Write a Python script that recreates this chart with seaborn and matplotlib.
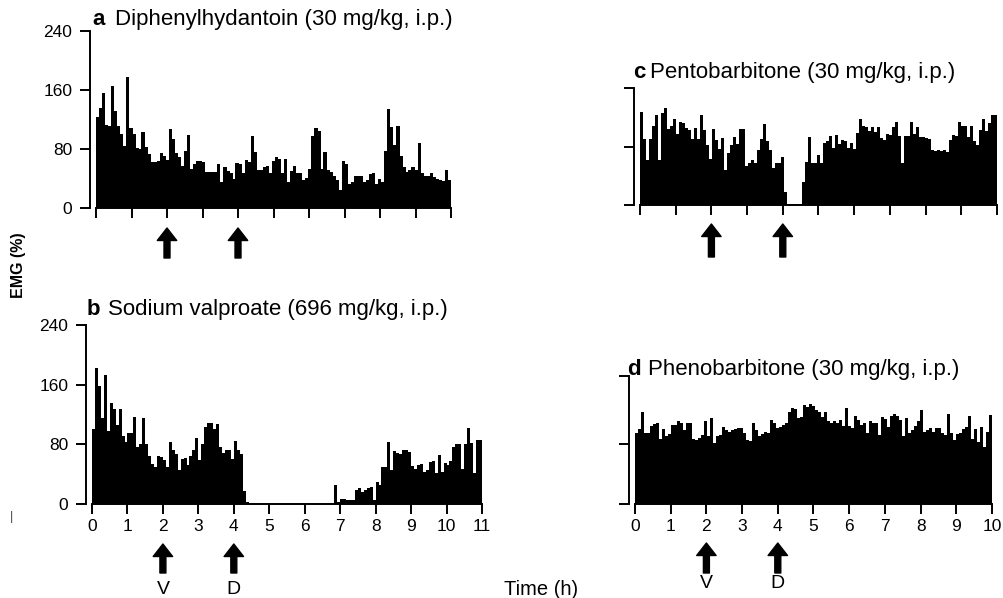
import numpy as np
import pandas as pd
import matplotlib
matplotlib.use("Agg")
import matplotlib.pyplot as plt
import seaborn as sns

# EMG (% of control), one value per 5-min bin
emg_a = [123, 135, 156, 113, 111, 165, 131, 111, 100, 84,
         178, 108, 100, 82, 80, 103, 83, 73, 63, 62,
         64, 74, 70, 65, 107, 93, 75, 69, 57, 77,
         99, 53, 60, 64, 64, 62, 49, 49, 49, 49,
         59, 35, 56, 50, 47, 40, 61, 59, 47, 65,
         63, 97, 76, 51, 52, 56, 57, 47, 64, 69,
         67, 47, 66, 35, 50, 57, 47, 47, 38, 41,
         53, 98, 108, 105, 53, 76, 52, 49, 44, 38,
         25, 64, 60, 32, 35, 43, 43, 44, 35, 38,
         46, 47, 32, 39, 35, 77, 134, 110, 86, 111,
         71, 56, 49, 51, 55, 51, 88, 47, 44, 43,
         47, 42, 40, 38, 37, 52, 38]

emg_b = [100, 182, 158, 115, 173, 98, 136, 128, 106, 127,
         91, 83, 95, 95, 117, 76, 80, 115, 80, 65,
         54, 50, 64, 63, 59, 50, 83, 73, 67, 46,
         61, 62, 52, 65, 72, 88, 59, 81, 103, 108,
         108, 101, 107, 77, 68, 72, 72, 61, 84, 73,
         67, 17, 3, 0.5,
         0, 0, 0, 0, 0, 0, 0, 0, 0, 0,
         0, 0, 0, 0, 0, 0, 0, 0, 0, 0,
         0, 0, 0, 0, 0, 0, 0, 0,
         25, 3, 7, 7, 6, 5, 6, 19, 22, 16,
         19, 22, 23, 6, 29, 25, 50, 50, 83, 45,
         71, 68, 67, 72, 72, 70, 51, 47, 52, 53,
         43, 45, 56, 57, 42, 66, 43, 55, 52, 58,
         77, 80, 80, 47, 81, 102, 82, 42, 86, 86]

emg_c = [127, 90, 62, 90, 108, 123, 62, 126, 133, 104,
         108, 118, 97, 113, 112, 105, 102, 90, 105, 90,
         123, 103, 82, 63, 104, 89, 76, 91, 48, 71,
         82, 93, 83, 104, 104, 53, 58, 62, 57, 75,
         90, 111, 88, 75, 50, 58, 57, 66, 18, 2,
         1, 1, 1, 2, 31, 59, 93, 57, 57, 69,
         57, 85, 87, 94, 78, 96, 84, 89, 87, 78,
         85, 77, 99, 117, 108, 107, 101, 107, 100, 107,
         91, 89, 97, 96, 107, 114, 94, 57, 95, 95,
         113, 97, 107, 93, 93, 92, 90, 75, 74, 75,
         74, 75, 73, 89, 96, 95, 114, 108, 108, 93,
         108, 87, 82, 103, 117, 101, 112, 123, 123]

emg_d = [96, 101, 124, 95, 95, 105, 107, 109, 87, 101,
         91, 94, 106, 106, 111, 109, 100, 109, 109, 87,
         86, 89, 93, 112, 91, 115, 82, 91, 93, 103,
         100, 97, 100, 101, 102, 102, 96, 86, 84, 109,
         100, 92, 94, 97, 95, 113, 109, 102, 104, 106,
         109, 124, 129, 127, 115, 117, 133, 131, 135, 132,
         126, 123, 117, 123, 111, 109, 111, 109, 113, 105,
         129, 105, 102, 118, 113, 106, 109, 95, 111, 109,
         109, 93, 117, 114, 103, 118, 121, 118, 113, 91,
         115, 96, 100, 105, 111, 126, 97, 100, 102, 97,
         102, 102, 96, 93, 121, 95, 86, 94, 96, 101,
         103, 118, 87, 101, 83, 103, 76, 97, 120]

letters = ["a", "b", "c", "d"]
drugs = ["Diphenylhydantoin (30 mg/kg, i.p.)",
         "Sodium valproate (696 mg/kg, i.p.)",
         "Pentobarbitone (30 mg/kg, i.p.)",
         "Phenobarbitone (30 mg/kg, i.p.)"]
hours = [10, 11, 10, 10]
arrow_times = [2, 4]
arrow_labels = ["V", "D"]

sns.set_theme(style="ticks")
plt.rcParams["font.family"] = ["Liberation Sans", "DejaVu Sans"]
plt.rcParams["text.color"] = "black"
plt.rcParams["axes.labelcolor"] = "black"

W, H = 1004, 598
fig = plt.figure(figsize=(W / 100, H / 100), dpi=100)


def box(left, right, top, bottom):
    return [left / W, (H - bottom) / H, (right - left) / W, (bottom - top) / H]


# pixel boxes of the four panels
layout = {
    "a": dict(rect=box(96, 451, 31, 208), ytop=240, yticks=[0, 80, 160, 240], ylab=True, xlab=False,
              title=(92, 115, 25), arrow=(20, 50), vd=None),
    "b": dict(rect=box(92, 482, 325, 504), ytop=240, yticks=[0, 80, 160, 240], ylab=True, xlab=True,
              title=(87, 108, 315), arrow=(40, 69), vd=85),
    "c": dict(rect=box(640, 997, 88, 205), ytop=160, yticks=[0, 80, 160], ylab=False, xlab=False,
              title=(633, 650, 78), arrow=(19, 52), vd=None),
    "d": dict(rect=box(635, 992, 376, 504), ytop=172, yticks=[0, 80, 172], ylab=False, xlab=True,
              title=(627, 648, 375), arrow=(39, 69), vd=80),
}

series = [emg_a, emg_b, emg_c, emg_d]

for letter, drug, hrs, vals in zip(letters, drugs, hours, series):
    cfg = layout[letter]
    ax = fig.add_axes(cfg["rect"])
    n = len(vals)
    df = pd.DataFrame({"t": (np.arange(n) + 0.5) * hrs / n, "emg": vals})
    # width a touch over 1 so neighbouring bars overlap, no hairline gaps
    sns.barplot(data=df, x="t", y="emg", native_scale=True, orient="x", width=1.06,
                color="black", saturation=1, errorbar=None, linewidth=0, ax=ax)
    for p in ax.patches:
        p.set_antialiased(False)

    ax.set_xlim(0, hrs)
    ax.set_ylim(0, cfg["ytop"])
    ax.set_xticks(range(hrs + 1))
    ax.set_xticklabels([str(i) for i in range(hrs + 1)] if cfg["xlab"] else [])
    ax.set_yticks(cfg["yticks"])
    if not cfg["ylab"]:
        ax.set_yticklabels([])
    ax.set_xlabel("")
    ax.set_ylabel("")

    sns.despine(ax=ax)
    ax.spines["left"].set_position(("outward", 4))
    for s in ["left", "bottom"]:
        ax.spines[s].set_linewidth(1.4)
        ax.spines[s].set_color("black")
    ax.tick_params(axis="both", direction="out", length=7, width=1.4, color="black",
                   labelsize=12.5, labelcolor="black")
    ax.tick_params(axis="y", pad=6)
    ax.tick_params(axis="x", pad=4)

    # dosing arrows below the time axis
    h_px = ax.get_position().height * H
    tip, tail = cfg["arrow"]
    for t, lab in zip(arrow_times, arrow_labels):
        ax.annotate("", xy=(t, -tip / h_px), xytext=(t, -tail / h_px),
                    xycoords=("data", "axes fraction"), annotation_clip=False,
                    arrowprops=dict(width=4.3, headwidth=14, headlength=9, shrink=0,
                                    facecolor="black", edgecolor="black"))
        if cfg["vd"] is not None:
            ax.text(t, -cfg["vd"] / h_px, lab, transform=ax.get_xaxis_transform(),
                    ha="center", va="center", fontsize=14, color="black")

    # panel title: bold letter + drug name
    xl, xn, yb = cfg["title"]
    fig.text(xl / W, 1 - yb / H, letter, fontsize=16, fontweight="bold", va="baseline", ha="left")
    fig.text(xn / W, 1 - yb / H, drug, fontsize=16, va="baseline", ha="left")

fig.text(18 / W, 1 - 265 / H, "EMG (%)", rotation=90, fontsize=11.5, fontweight="bold",
         ha="center", va="center")
fig.text(541 / W, 1 - 595 / H, "Time (h)", fontsize=14.5, ha="center", va="baseline")
fig.text(12 / W, 1 - 517 / H, "|", fontsize=9, ha="center", va="center", color="#444444")

fig.savefig("out.png", dpi=100)
